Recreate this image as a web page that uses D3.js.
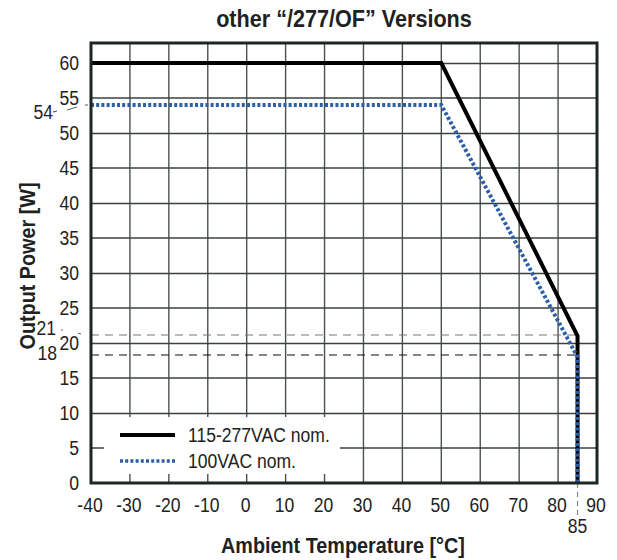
<!DOCTYPE html>
<html><head><meta charset="utf-8">
<script src="https://cdn.jsdelivr.net/npm/d3@7"></script>
<style>
body{margin:0;background:#fff}
text{font-family:"Liberation Sans",Arial,sans-serif;fill:#1e2222}
</style></head><body>
<svg id="c" width="617" height="560"></svg>
<script>
const title = "other \u201c/277/OF\u201d Versions";
const xLabel = "Ambient Temperature [°C]";
const yLabel = "Output Power [W]";
const xTicks = [-40,-30,-20,-10,0,10,20,30,40,50,60,70,80,90];
const yTicks = [0,5,10,15,20,25,30,35,40,45,50,55,60];
const seriesNames = ["115-277VAC nom.","100VAC nom."];
const tempA = [-40,50,85,85];
const powerA = [60,60,21,0];
const tempB = [-40,50,85,85];
const powerB = [54,54,18,0];
const markY = [54,21,18];
const markX = [85];

const svg = d3.select("#c");
const L=91,R=597,T=43,B=483;
const x = d3.scaleLinear().domain([-40,90]).range([L,R]);
const y = d3.scaleLinear().domain([0,60]).range([B,B-420]);
const SX = 0.9;
function txt(px,py,s,size,anchor,bold,rot){
  return svg.append("text")
    .attr("transform",`translate(${px},${py})${rot?" rotate(-90)":""} scale(${SX},1)`)
    .attr("text-anchor",anchor||"start").attr("font-size",size)
    .attr("font-weight",bold?"bold":"normal").text(s);
}

// grid
const g = svg.append("g");
xTicks.slice(1,-1).forEach(v=>{
  g.append("line").attr("x1",x(v)).attr("x2",x(v)).attr("y1",T).attr("y2",B)
   .attr("stroke","#4a5250").attr("stroke-width",1.4);
});
yTicks.slice(1).forEach((v,i)=>{
  g.append("line").attr("x1",L).attr("x2",R).attr("y1",y(v)+(i%2?0.5:0)).attr("y2",y(v)+(i%2?0.5:0))
   .attr("stroke","#3a4240").attr("stroke-width",1.4);
});

// legend background
svg.append("rect").attr("x",104).attr("y",417).attr("width",236).attr("height",57).attr("fill","#fff");

// reference dashed lines
svg.append("line").attr("x1",L).attr("x2",x(markX[0])).attr("y1",y(markY[1])-1).attr("y2",y(markY[1])-1)
  .attr("stroke","#777").attr("stroke-width",1.2).attr("stroke-dasharray","8,6");
svg.append("line").attr("x1",L).attr("x2",x(markX[0])).attr("y1",y(markY[2])-2).attr("y2",y(markY[2])-2)
  .attr("stroke","#111").attr("stroke-width",1.1).attr("stroke-dasharray","8,6");
svg.append("line").attr("x1",x(markX[0])).attr("x2",x(markX[0])).attr("y1",B).attr("y2",B+32)
  .attr("stroke","#888").attr("stroke-width",1.2).attr("stroke-dasharray","5,4");

// series
const line = d3.line().x(d=>x(d[0])).y(d=>y(d[1]));
svg.append("path").datum(tempA.map((t,i)=>[t,powerA[i]])).attr("d",line)
  .attr("fill","none").attr("stroke","#000").attr("stroke-width",4).attr("stroke-linejoin","miter");
svg.append("path").datum(tempB.map((t,i)=>[t,powerB[i]])).attr("d",line)
  .attr("fill","none").attr("stroke","#2d5fa8").attr("stroke-width",4).attr("stroke-dasharray","3,2.2");

// frame
svg.append("rect").attr("x",L).attr("y",T).attr("width",R-L).attr("height",B-T)
  .attr("fill","none").attr("stroke","#1c2624").attr("stroke-width",3);

// tick labels
xTicks.forEach(v=>{ txt(x(v)-1,512,v,19.5,"middle"); });
yTicks.forEach(v=>{ txt(79,y(v)+7,v,19.5,"end"); });
// special marks
txt(53,y(markY[0])+14,markY[0],19.5,"end");
svg.append("line").attr("x1",53).attr("x2",57).attr("y1",y(markY[0])+7).attr("y2",y(markY[0])+6).attr("stroke","#333").attr("stroke-width",0.9);
svg.append("line").attr("x1",67).attr("x2",77).attr("y1",y(markY[0])+5).attr("y2",y(markY[0])+2).attr("stroke","#333").attr("stroke-width",0.8);
svg.append("line").attr("x1",85).attr("x2",88).attr("y1",y(markY[0])).attr("y2",y(markY[0])).attr("stroke","#333").attr("stroke-width",0.8);
txt(56,y(markY[1])-1,markY[1],19.5,"end");
svg.append("line").attr("x1",61).attr("x2",63).attr("y1",y(markY[1])-6).attr("y2",y(markY[1])-6).attr("stroke","#555").attr("stroke-width",0.8);
svg.append("line").attr("x1",78).attr("x2",81).attr("y1",y(markY[1])-3).attr("y2",y(markY[1])-2).attr("stroke","#333").attr("stroke-width",0.8);
txt(57,y(markY[2])+3,markY[2],19.5,"end");
txt(x(markX[0]),533,markX[0],19.5,"middle");

// legend
svg.append("line").attr("x1",120).attr("x2",175).attr("y1",435).attr("y2",435).attr("stroke","#000").attr("stroke-width",4);
svg.append("line").attr("x1",120).attr("x2",175).attr("y1",461).attr("y2",461).attr("stroke","#2d5fa8").attr("stroke-width",3.5).attr("stroke-dasharray","3,2.2");
txt(188,442,seriesNames[0],19.5);
txt(188,468,seriesNames[1],19.5);

// titles
txt(344,27,title,24,"middle",true);
txt(343,553,xLabel,22,"middle",true);
txt(35,266,yLabel,22,"middle",true,true);
</script></body></html>
